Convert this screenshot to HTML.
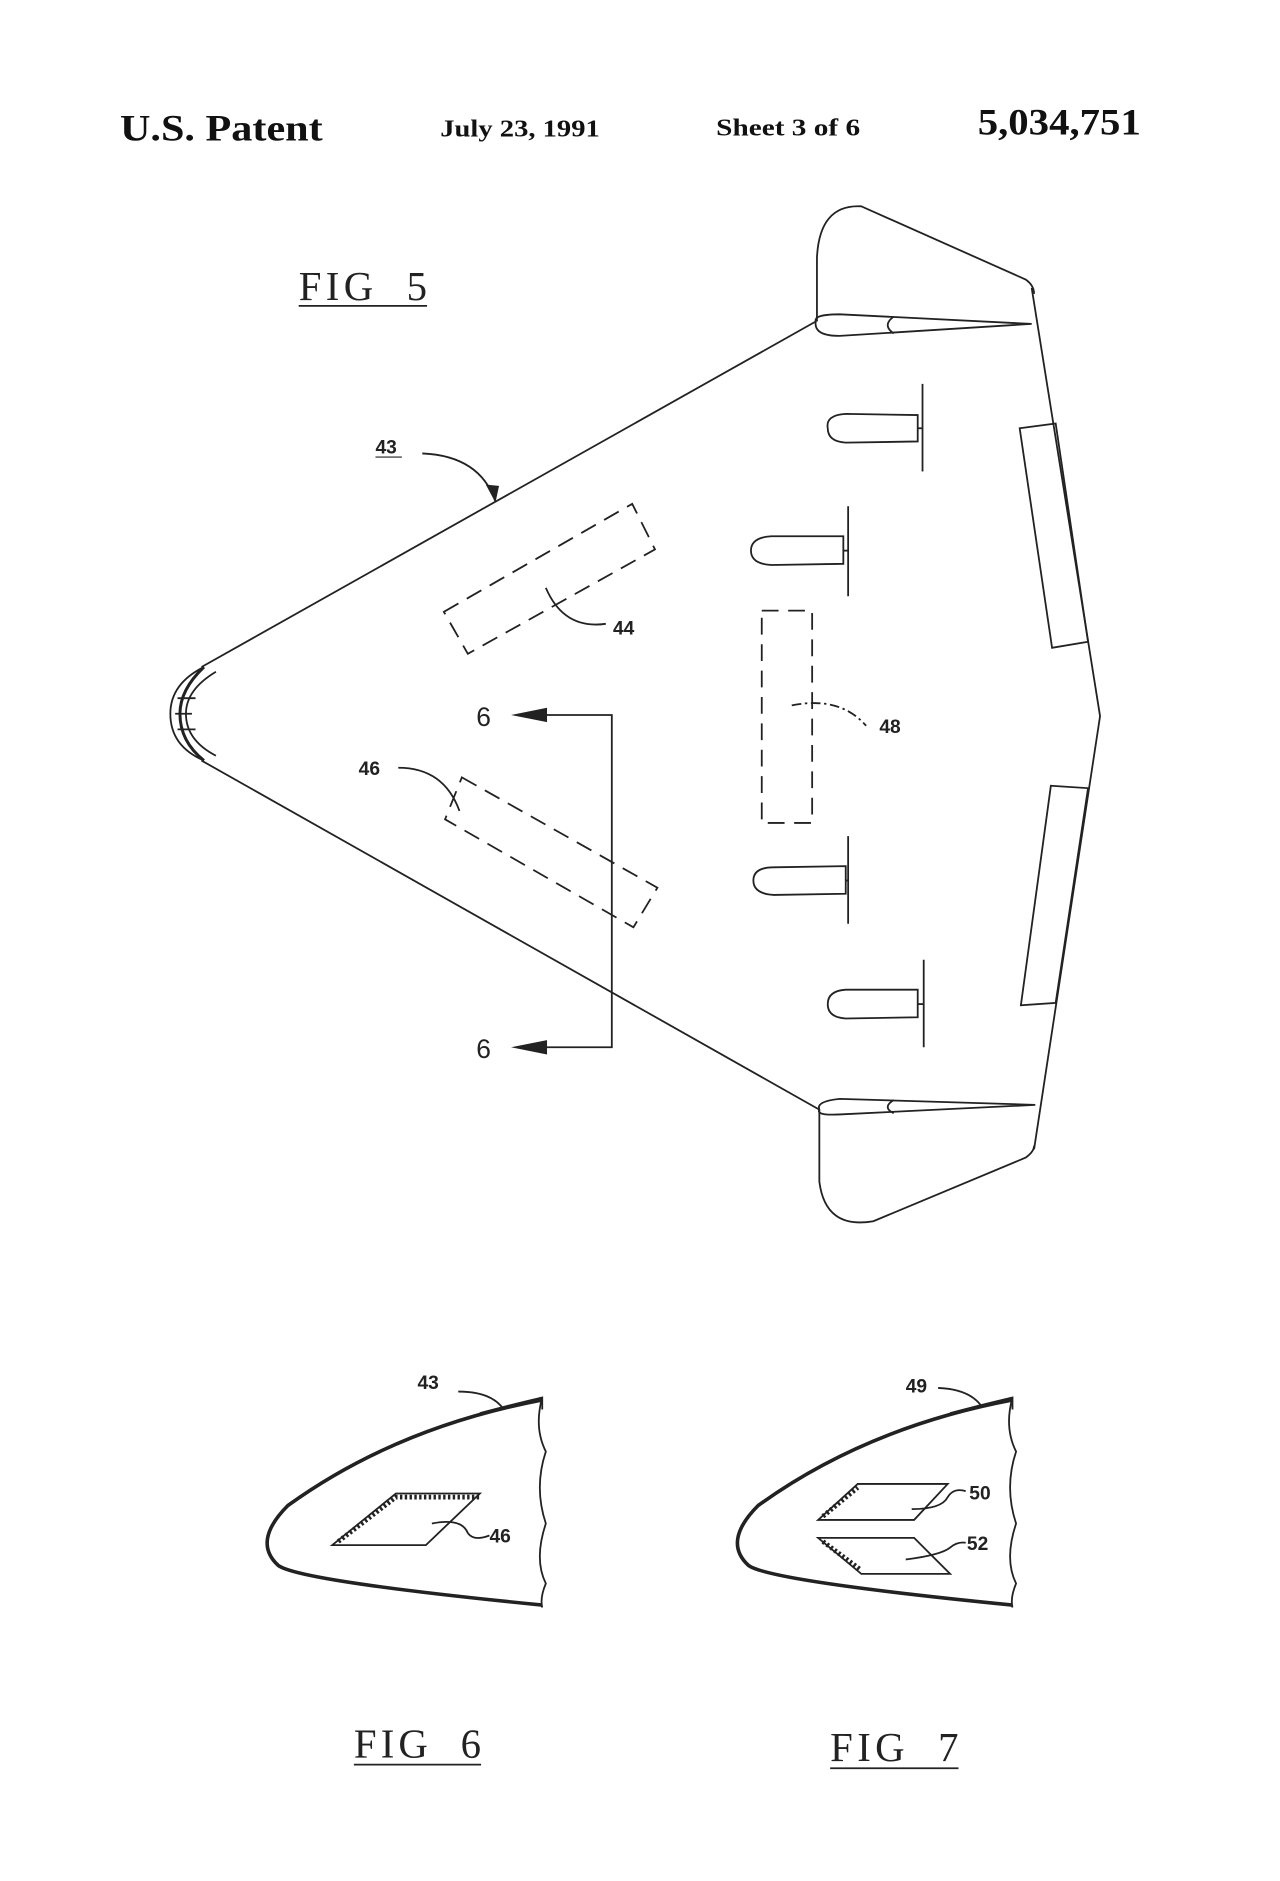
<!DOCTYPE html>
<html><head><meta charset="utf-8"><style>
html,body{margin:0;padding:0;background:#fff;}
svg{display:block;}
.hd{font-family:"Liberation Serif",serif;font-weight:bold;fill:#111;}
.fig{font-family:"Liberation Serif",serif;fill:#222;font-size:34px;white-space:pre;}
.lb{font-family:"Liberation Sans",sans-serif;font-weight:bold;fill:#222;font-size:16px;}
</style></head><body>
<svg width="1280" height="1881" viewBox="0 0 1067 1568" preserveAspectRatio="none" xmlns="http://www.w3.org/2000/svg">
<rect width="1067" height="1568" fill="#fff"/>
<text class="hd" x="100" y="117" font-size="31" textLength="169" lengthAdjust="spacingAndGlyphs">U.S. Patent</text>
<text class="hd" x="367" y="114" font-size="20" textLength="133" lengthAdjust="spacingAndGlyphs">July 23, 1991</text>
<text class="hd" x="597" y="113" font-size="20" textLength="120" lengthAdjust="spacingAndGlyphs">Sheet 3 of 6</text>
<text class="hd" x="815" y="112" font-size="31" textLength="136" lengthAdjust="spacingAndGlyphs">5,034,751</text>

<text class="fig" x="249" y="250" textLength="107" xml:space="preserve">FIG  5</text>
<line x1="249" y1="255" x2="356" y2="255" stroke="#222" stroke-width="1.5"/>

<g fill="none" stroke="#222" stroke-width="1.5">
<line x1="168" y1="556" x2="680" y2="268"/>
<line x1="168" y1="634" x2="683" y2="925"/>
<path d="M170,556 Q142,570 142,595 Q142,622 170,634"/>
<path d="M180,560 Q155,575 155,595 Q155,617 180,630" />
<path d="M170,556 Q150,575 150,595 Q150,618 170,634" stroke-width="2.5"/>
<line x1="148" y1="582" x2="163" y2="582"/><line x1="146" y1="595" x2="160" y2="595"/><line x1="148" y1="608" x2="163" y2="608"/>
<path d="M681,268 L681,215 Q683,170 718,172 L855,233 Q862,238 862,245"/>
<path d="M860,240 L917,597 L862,958"/>
<path d="M683,925 L683,985 Q688,1025 728,1018 L855,965 Q862,960 862,955"/>
<polygon points="850,357 880,353 907,535 877,540"/>
<polygon points="876,655 907,657 880,836 851,838"/>
<path d="M680,268 Q678,262 700,262 L860,270 L700,280 Q678,280 680,268Z"/>
<path d="M745,264 Q735,271 745,278"/>
<path d="M683,925 Q680,918 700,916 L863,921 L700,929 Q680,930 683,925Z"/>
<path d="M745,917 Q735,923 745,928"/>
<path d="M765,346 L705,345 Q688,346 690,357 Q690,368 705,369 L765,368 Z"/>
<line x1="765" y1="357" x2="769" y2="357"/><line x1="769" y1="320" x2="769" y2="393"/>
<path d="M703,447 L643,447 Q626,448 626,459 Q626,470 643,471 L703,470 Z"/>
<line x1="703" y1="459" x2="707" y2="459"/><line x1="707" y1="422" x2="707" y2="497"/>
<path d="M705,722 L645,723 Q628,723 628,734 Q628,745 645,746 L705,745 Z"/>
<line x1="705" y1="734" x2="707" y2="734"/><line x1="707" y1="697" x2="707" y2="770"/>
<path d="M765,825 L705,825 Q690,826 690,837 Q690,848 705,849 L765,848 Z"/>
<line x1="765" y1="837" x2="770" y2="837"/><line x1="770" y1="800" x2="770" y2="873"/>
<g stroke-dasharray="14,8">
<polygon points="370,510 527,420 546,458 390,545"/>
<polygon points="385,648 548,740 528,773 371,683"/>
<rect x="635" y="509" width="42" height="177"/>
</g>
<polyline points="445,596 510,596 510,873 445,873"/>
<path d="M352,378 Q400,380 413,418"/>
<path d="M455,490 Q470,525 505,520"/>
<path d="M660,588 Q700,580 722,605" stroke-dasharray="8,3,2,3"/>
<path d="M332,640 Q370,640 383,676"/>
</g>
<polygon points="413,419 405,404 416,405" fill="#222"/>
<polygon points="426,596 456,590 456,602" fill="#222"/>
<polygon points="426,873 456,867 456,879" fill="#222"/>
<text x="397" y="605" font-family="Liberation Sans,sans-serif" font-size="22" fill="#222">6</text>
<text x="397" y="882" font-family="Liberation Sans,sans-serif" font-size="22" fill="#222">6</text>
<text class="lb" x="313" y="378">43</text>
<line x1="313" y1="381" x2="335" y2="381" stroke="#222"/>
<text class="lb" x="511" y="529">44</text>
<text class="lb" x="733" y="611">48</text>
<text class="lb" x="299" y="646">46</text>

<g fill="none" stroke="#222" stroke-width="1.5">
<path d="M452,1167 Q330,1190 240,1255 Q210,1285 232,1305 Q250,1318 452,1338" stroke-width="3"/>
<path d="M400,1178 Q430,1170 452,1165 L452,1175"/>
<path d="M452,1165 Q445,1190 455,1210 Q445,1240 455,1270 Q445,1300 455,1320 Q450,1332 452,1340"/>
<polygon points="277,1288 330,1245 400,1245 355,1288"/>
<path d="M282,1285 L330,1248 L400,1248" stroke-width="4" stroke-dasharray="2,2"/>
<path d="M360,1270 Q385,1265 390,1278 Q395,1285 408,1280"/>
<path d="M382,1160 Q410,1160 420,1175"/>
</g>
<text class="lb" x="348" y="1158">43</text>
<text class="lb" x="408" y="1286">46</text>

<g fill="none" stroke="#222" stroke-width="1.5">
<path d="M844,1167 Q722,1190 632,1255 Q602,1285 624,1305 Q642,1318 844,1338" stroke-width="3"/>
<path d="M792,1178 Q822,1170 844,1165 L844,1175"/>
<path d="M844,1165 Q837,1190 847,1210 Q837,1240 847,1270 Q837,1300 847,1320 Q842,1332 844,1340"/>
<polygon points="682,1267 715,1237 790,1237 762,1267"/>
<polygon points="682,1282 762,1282 792,1312 718,1312"/>
<path d="M686,1264 L715,1240" stroke-width="4" stroke-dasharray="2,2"/>
<path d="M686,1285 L718,1309" stroke-width="4" stroke-dasharray="2,2"/>
<path d="M760,1258 Q785,1258 790,1248 Q795,1240 805,1243"/>
<path d="M755,1300 Q785,1296 792,1290 Q798,1285 805,1286"/>
<path d="M782,1157 Q808,1158 818,1172"/>
</g>
<text class="lb" x="755" y="1161">49</text>
<text class="lb" x="808" y="1250">50</text>
<text class="lb" x="806" y="1292">52</text>

<text class="fig" x="295" y="1465" textLength="106" xml:space="preserve">FIG  6</text>
<line x1="295" y1="1471" x2="401" y2="1471" stroke="#222" stroke-width="1.5"/>
<text class="fig" x="692" y="1468" textLength="107" xml:space="preserve">FIG  7</text>
<line x1="692" y1="1474" x2="799" y2="1474" stroke="#222" stroke-width="1.5"/>
</svg>
</body></html>
